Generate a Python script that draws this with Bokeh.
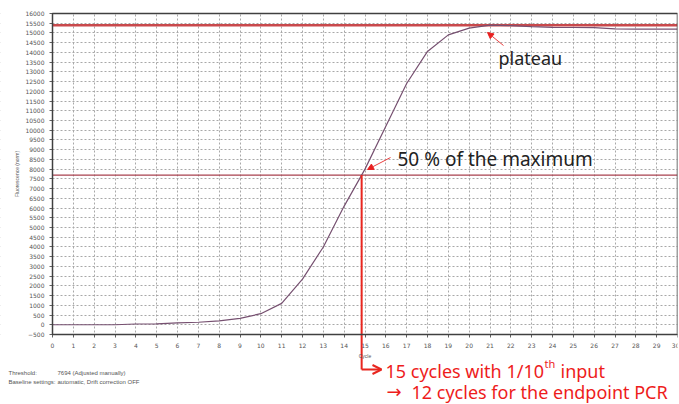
import numpy as np
from bokeh.plotting import figure
from bokeh.models import (FixedTicker, Label, Arrow, OpenHead, NormalHead, BoxAnnotation)
from bokeh.embed import file_html
from bokeh.resources import INLINE

# ---- data ----
cycles = list(range(31))
fluor = [0, 0, 0, 0, 40, 50, 100, 130, 200, 330, 570, 1100, 2350, 4000, 6100,
         8000, 10200, 12400, 14050, 14900, 15250, 15400, 15380, 15330, 15290,
         15280, 15270, 15210, 15200, 15200, 15200]
threshold = 7694
x_ticks = list(range(0, 31))
y_ticks = list(range(-500, 16001, 500))

plateau = max(fluor)
cross_x = float(np.interp(threshold, fluor[:20], cycles[:20]))

# ---- layout (pixels) ----
W, H = 679, 404
FL, FR, FT = 52, 677, 13          # plot box left/right/top in px
AX_Y = 334                        # px where the x axis (-500) sits
X0, X1 = 0, 30
YTOP, YAX = 16000, -500
ppu_y = (AX_Y - FT) / (YTOP - YAX)
ppu_x = (FR - FL) / (X1 - X0)
XLEFT = X0 - FL / ppu_x           # data x at canvas left edge
YBOT = YAX - (H - AX_Y) / ppu_y   # data y at canvas bottom edge

def dx(px):
    return X0 + (px - FL) / ppu_x

def dy(py):
    return YTOP - (py - FT) / ppu_y

p = figure(width=W, height=H, output_backend="svg", toolbar_location=None,
           x_range=(XLEFT, X1), y_range=(YBOT, YTOP),
           min_border_left=0, min_border_right=W - FR, min_border_top=FT - 4,
           min_border_bottom=0)
# extend the range a little above 16000 so the top tick label is not cut
p.y_range.end = YTOP + 4 / ppu_y
p.background_fill_color = "white"
p.border_fill_color = "white"
p.outline_line_color = None

p.xaxis.ticker = FixedTicker(ticks=x_ticks)
p.yaxis.ticker = FixedTicker(ticks=y_ticks)
p.xaxis.fixed_location = YAX
p.yaxis.fixed_location = X0
p.xaxis.bounds = (X0, X1)
p.yaxis.bounds = (YAX, YTOP)
for ax in (p.xaxis, p.yaxis):
    ax.major_label_text_font_size = "6px"
    ax.major_label_text_color = "#555555"
    ax.major_label_text_font = "DejaVu Sans"
    ax.axis_line_color = "#404040"
    ax.major_tick_line_color = "#606060"
    ax.major_tick_out = 3
    ax.major_tick_in = 0
    ax.minor_tick_line_color = None
    ax.axis_label_text_font_size = "5px"
    ax.axis_label_text_font_style = "normal"
    ax.axis_label_text_color = "#555555"
    ax.axis_label_standoff = 2
p.xaxis.axis_label = "Cycle"
p.yaxis.axis_label = "Fluorescence (norm)"

p.xgrid.grid_line_color = "#a8a8a8"
p.ygrid.grid_line_color = "#a8a8a8"
p.xgrid.grid_line_dash = "2 2"
p.ygrid.grid_line_dash = "2 2"

# white masks so the grid stays inside the plot box
p.add_layout(BoxAnnotation(top=YAX, fill_color="white", fill_alpha=1,
                           line_color=None, level="underlay"))
p.add_layout(BoxAnnotation(right=X0, fill_color="white", fill_alpha=1,
                           line_color=None, level="underlay"))
p.add_layout(BoxAnnotation(bottom=YTOP, fill_color="white", fill_alpha=1,
                           line_color=None, level="underlay"))
# plot box outline
p.add_layout(BoxAnnotation(left=X0, right=X1, bottom=YAX, top=YTOP, fill_color=None,
                           fill_alpha=0, line_color="#404040", line_width=1.5, line_alpha=1))

# reference lines
p.segment(x0=[X0], y0=[plateau], x1=[X1], y1=[plateau], line_color="#c9494c", line_width=2.5)
p.segment(x0=[X0], y0=[threshold], x1=[X1], y1=[threshold], line_color="#a8404e", line_width=1.2)

# curve
p.line(cycles, fluor, line_color="#765070", line_width=1.2)

# vertical red line from crossing to below the axis, then arrow to the right
y_low = dy(369)
p.segment(x0=[cross_x], y0=[threshold], x1=[cross_x], y1=[y_low],
          line_color="#e8261f", line_width=2)
p.add_layout(Arrow(x_start=cross_x, y_start=y_low, x_end=dx(381), y_end=y_low,
                   line_color="#e8261f", line_width=2,
                   end=OpenHead(size=9, line_color="#e8261f", line_width=2)))

# annotation arrows inside the plot
p.add_layout(Arrow(x_start=dx(390), y_start=dy(157), x_end=dx(367), y_end=dy(169),
                   line_color="#e84040", line_width=1,
                   end=NormalHead(size=6, fill_color="#e82020", line_color="#e82020")))
p.add_layout(Arrow(x_start=dx(503), y_start=dy(45), x_end=dx(487), y_end=dy(32),
                   line_color="#e84040", line_width=1,
                   end=NormalHead(size=6, fill_color="#e82020", line_color="#e82020")))

FONT = "Noto Sans"
p.add_layout(Label(x=dx(397), y=dy(158), text="50 % of the maximum", text_font=FONT,
                   text_font_size="19px", text_color="#222222", text_baseline="middle"))
p.add_layout(Label(x=dx(498), y=dy(57), text="plateau", text_font=FONT,
                   text_font_size="18px", text_color="#222222", text_baseline="middle"))

RED = "#ee1c1c"
p.add_layout(Label(x=dx(385), y=dy(370), text="15 cycles with 1/10", text_font=FONT,
                   text_font_size="18px", text_color=RED, text_baseline="middle"))
p.add_layout(Label(x=dx(544), y=dy(363), text="th", text_font=FONT,
                   text_font_size="11px", text_color=RED, text_baseline="middle"))
p.add_layout(Label(x=dx(560), y=dy(370), text="input", text_font=FONT,
                   text_font_size="18px", text_color=RED, text_baseline="middle"))
p.add_layout(Label(x=dx(386), y=dy(391), text="\u2192", text_font="DejaVu Sans",
                   text_font_size="18px", text_color=RED, text_baseline="middle"))
p.add_layout(Label(x=dx(411), y=dy(391), text="12 cycles for the endpoint PCR",
                   text_font=FONT, text_font_size="18px", text_color=RED,
                   text_baseline="middle"))

for tx, ty, t in [(8, 372, "Threshold:"), (57, 372, "7694 (Adjusted manually)"),
                  (8, 381, "Baseline settings:"), (57, 381, "automatic, Drift correction OFF")]:
    p.add_layout(Label(x=dx(tx), y=dy(ty), text=t, text_font="Liberation Sans",
                       text_font_size="6px", text_color="#555555", text_baseline="middle"))

open("out.html", "w").write(file_html(p, INLINE))
